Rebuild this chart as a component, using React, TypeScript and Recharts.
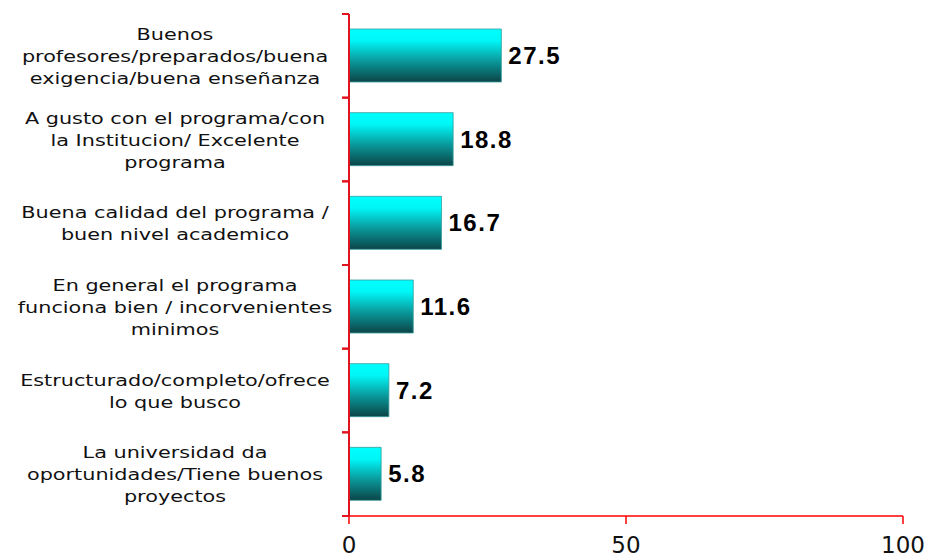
import React from "react";
import { BarChart, Bar, XAxis, YAxis, LabelList } from "recharts";

const categoryLines: string[][] = [
  ["Buenos", "profesores/preparados/buena", "exigencia/buena enseñanza"],
  ["A gusto con el programa/con", "la Institucion/ Excelente", "programa"],
  ["Buena calidad del programa /", "buen nivel academico"],
  ["En general el programa", "funciona bien / incorvenientes", "minimos"],
  ["Estructurado/completo/ofrece", "lo que busco"],
  ["La universidad da", "oportunidades/Tiene buenos", "proyectos"],
];

const values = [27.5, 18.8, 16.7, 11.6, 7.2, 5.8];
const valueLabels = ["27.5", "18.8", "16.7", "11.6", "7.2", "5.8"];
const xTicks = [0, 50, 100];

const data = categoryLines.map((lines, i) => ({
  name: lines.join(" "),
  lines,
  value: values[i],
  label: valueLabels[i],
}));

const Y_RED = "#e0141e";
const X_RED = "#ff0000";

function CategoryTick(props: any) {
  const { x, y, payload, index } = props;
  const half = payload && payload.offset ? payload.offset : 42;
  const lines = data[index] ? data[index].lines : [String(payload.value)];
  const lineH = 22;
  const start = -((lines.length - 1) * lineH) / 2;
  return (
    <g>
      <line x1={x - 7} x2={x} y1={y - half} y2={y - half} stroke={Y_RED} strokeWidth={2} />
      <line x1={x - 7} x2={x} y1={y + half} y2={y + half} stroke={Y_RED} strokeWidth={2} />
      <g transform={`translate(${x - 174},${y}) scale(1.26,1)`}>
        <text
          x={0}
          y={start}
          textAnchor="middle"
          dominantBaseline="central"
          fontFamily="DejaVu Sans"
          fontSize={16.5}
          fill="#111"
        >
          {lines.map((l: string, i: number) => (
            <tspan key={i} x={0} y={start + i * lineH} dominantBaseline="central">
              {l}
            </tspan>
          ))}
        </text>
      </g>
    </g>
  );
}

export default function App() {
  return (
    <div style={{ position: "absolute", left: 0, top: 0, background: "#fff" }}>
      <BarChart
        width={930}
        height={560}
        data={data}
        layout="vertical"
        margin={{ top: 14, right: 27, bottom: 0, left: 0 }}
      >
        <defs>
          <linearGradient id="barGrad" x1="0" y1="0" x2="0" y2="1">
            <stop offset="0%" stopColor="#00ffff" />
            <stop offset="22%" stopColor="#00f6f7" />
            <stop offset="60%" stopColor="#0a9a9c" />
            <stop offset="100%" stopColor="#0b4447" />
          </linearGradient>
        </defs>
        <XAxis
          type="number"
          domain={[0, 100]}
          ticks={xTicks}
          height={44}
          axisLine={{ stroke: X_RED, strokeWidth: 1.5 }}
          tickLine={{ stroke: X_RED, strokeWidth: 1.5 }}
          tickSize={8}
          tickMargin={13}
          tick={{ fill: "#111", fontFamily: "DejaVu Sans", fontSize: 23 }}
        />
        <YAxis
          type="category"
          dataKey="name"
          width={349}
          axisLine={{ stroke: Y_RED, strokeWidth: 2 }}
          tickLine={false}
          tickSize={0}
          tickMargin={0}
          interval={0}
          tick={<CategoryTick />}
        />
        <Bar
          dataKey="value"
          barSize={53}
          fill="url(#barGrad)"
          stroke="#3a9c9c"
          strokeWidth={0.8}
          isAnimationActive={false}
        >
          <LabelList
            dataKey="label"
            position="right"
            offset={7}
            fill="#000"
            fontFamily="Liberation Sans"
            fontWeight="bold"
            fontSize={24}
            letterSpacing={1.5}
          />
        </Bar>
      </BarChart>
    </div>
  );
}
